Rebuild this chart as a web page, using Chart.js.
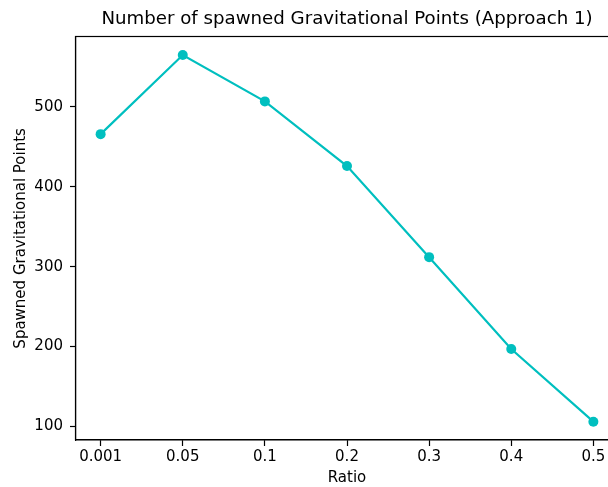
<!DOCTYPE html>
<html>
<head>
<meta charset="utf-8">
<script src="https://cdn.jsdelivr.net/npm/chart.js@4"></script>
<style>
  html, body { margin: 0; padding: 0; background: #fff; overflow: hidden; }
  #wrap { width: 608px; height: 487px; overflow: hidden; }
  canvas { display: block; }
</style>
</head>
<body>
<div id="wrap"><canvas id="myChart" width="623" height="487"></canvas></div>
<script>
const ratios = ['0.001', '0.05', '0.1', '0.2', '0.3', '0.4', '0.5']
const spawnedPoints = [466, 565, 507, 426, 312, 197, 106]
const yTicks = [100, 200, 300, 400, 500]

const FONT = 'DejaVu Sans'

// y limits padded 5% like the usual plot margins
let lo = Math.min(...spawnedPoints), hi = Math.max(...spawnedPoints)
let pad = (hi - lo) * 0.05

// box around the plot area
const frame = {
  id: 'frame',
  afterDraw(chart) {
    let {ctx, chartArea: a} = chart
    ctx.save()
    ctx.strokeStyle = '#000'
    ctx.lineWidth = 1.2
    ctx.strokeRect(Math.round(a.left) - 0.5, Math.round(a.top) - 0.5, a.right - a.left, a.bottom - a.top)
    ctx.restore()
  }
}

let ctx = document.getElementById('myChart').getContext('2d')
let graph = new Chart(ctx, {
  type: 'line',
  data: {
    datasets: [{
      label: 'Spawned Gravitational Points',
      data: spawnedPoints.map((v, i) => ({x: i, y: v})),
      borderColor: '#00bfbf',
      backgroundColor: '#00bfbf',
      borderWidth: 2.2,
      pointRadius: 5,
      pointBorderWidth: 0,
      pointBackgroundColor: '#00bfbf',
      fill: false,
      tension: 0
    }]
  },
  options: {
    responsive: false,
    animation: false,
    layout: {padding: 0},
    plugins: {
      legend: {display: false},
      tooltip: {enabled: false},
      title: {
        display: true,
        fullSize: false,
        text: 'Number of spawned Gravitational Points (Approach 1)',
        color: '#000',
        font: {family: FONT, size: 18.2, weight: 'normal'},
        padding: {top: 8.8, bottom: 6.1}
      }
    },
    scales: {
      x: {
        type: 'linear',
        min: -0.3,
        max: ratios.length - 1 + 0.3,
        afterBuildTicks: s => { s.ticks = ratios.map((r, i) => ({value: i})) },
        afterFit: s => { s.height = 47; s.paddingLeft = 0; s.paddingRight = 0 },
        grid: {drawOnChartArea: false, tickLength: 6, tickColor: '#000', tickWidth: 1.2},
        border: {color: '#000', width: 1.2},
        ticks: {
          color: '#000',
          padding: 2.5,
          maxRotation: 0,
          autoSkip: false,
          font: {family: FONT, size: 15},
          callback: v => ratios[v]
        },
        title: {
          display: true,
          text: 'Ratio',
          color: '#000',
          font: {family: FONT, size: 15},
          padding: {top: 0, bottom: 0}
        }
      },
      y: {
        min: lo - pad,
        max: hi + pad,
        afterBuildTicks: s => { s.ticks = yTicks.map(v => ({value: v})) },
        afterFit: s => { s.width = 76; s.paddingTop = 0; s.paddingBottom = 0 },
        grid: {drawOnChartArea: false, tickLength: 6, tickColor: '#000', tickWidth: 1.2},
        border: {color: '#000', width: 1.2},
        ticks: {
          color: '#000',
          padding: 7,
          font: {family: FONT, size: 15}
        },
        title: {
          display: true,
          text: 'Spawned Gravitational Points',
          color: '#000',
          font: {family: FONT, size: 15},
          padding: {top: 12, bottom: 0}
        }
      }
    }
  },
  plugins: [frame]
})
</script>
</body>
</html>
